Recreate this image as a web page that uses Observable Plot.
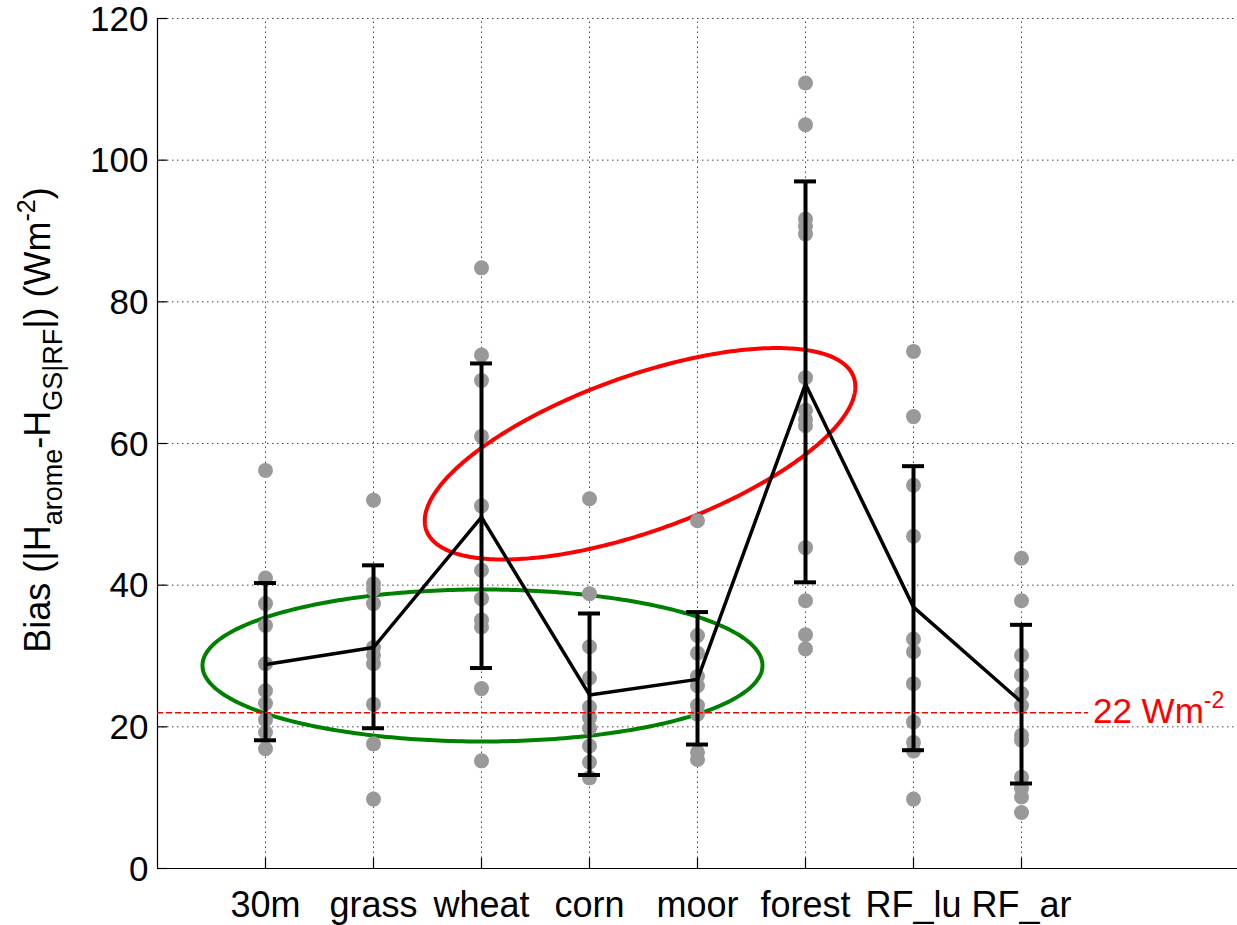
<!DOCTYPE html>
<html>
<head>
<meta charset="utf-8">
<script src="https://cdn.jsdelivr.net/npm/d3@7"></script>
<script src="https://cdn.jsdelivr.net/npm/@observablehq/plot@0.6"></script>
<style>
  html, body { margin: 0; padding: 0; background: #fff; }
  #chart svg { display: block; }
</style>
</head>
<body>
<div id="chart"></div>
<script>
// ---------- data ----------
const categories = ["30m", "grass", "wheat", "corn", "moor", "forest", "RF_lu", "RF_ar"];
const means    = [28.8, 31.2, 49.6, 24.5, 26.7, 68.4, 36.9, 23.5];
const errLow   = [18.1, 19.8, 28.3, 13.2, 17.5, 40.4, 16.7, 12.0];
const errHigh  = [40.3, 42.8, 71.3, 36.0, 36.2, 97.0, 56.8, 34.4];
const pts30m   = [56.2, 41.0, 37.4, 34.3, 28.9, 25.1, 23.3, 21.0, 19.2, 16.9];
const ptsGrass = [52.0, 40.2, 39.4, 37.4, 31.2, 30.1, 28.9, 23.2, 17.6, 9.8];
const ptsWheat = [84.8, 72.5, 68.9, 61.0, 51.2, 42.1, 38.1, 35.1, 34.1, 25.4, 15.2];
const ptsCorn  = [52.2, 38.8, 31.3, 26.9, 22.8, 21.3, 19.8, 17.3, 15.0, 12.8];
const ptsMoor  = [49.1, 32.9, 30.4, 27.1, 25.8, 23.0, 21.8, 16.4, 15.4];
const ptsForest= [110.9, 105.0, 91.7, 90.7, 89.6, 69.3, 64.7, 63.4, 62.5, 45.3, 37.8, 33.0, 31.0];
const ptsRFlu  = [73.0, 63.8, 54.1, 46.9, 32.4, 30.6, 26.1, 20.7, 17.8, 16.6, 9.8];
const ptsRFar  = [43.8, 37.8, 30.1, 27.3, 24.7, 23.0, 18.8, 18.1, 12.9, 11.3, 10.1, 7.9];
const yTicks   = [0, 20, 40, 60, 80, 100, 120];
const refValue = 22;
const refLabel = "22 Wm";

// ---------- layout ----------
const W = 1237, H = 925;
const ml = 157, mr = 0, mt = 18, mb = 57;
const xDomain = [0, 10], yDomain = [0, 120];
const kx = (W - ml - mr) / (xDomain[1] - xDomain[0]);
const ky = (H - mt - mb) / (yDomain[1] - yDomain[0]);
const font = "'Liberation Sans', Arial, Helvetica, sans-serif";

const allPts = [pts30m, ptsGrass, ptsWheat, ptsCorn, ptsMoor, ptsForest, ptsRFlu, ptsRFar];
const idx = categories.map((c, i) => i);
const pos = i => i + 1;
const scatter = allPts.flatMap((arr, i) => arr.map(v => ({x: pos(i), y: v})));

// annotation ellipses (centre in data units, radii in px, angle in degrees)
const ellipses = [
  {cx: 3.009, cy: 28.66, a: 280, b: 76, angle: 0, color: "#008000"},
  {cx: 4.468, cy: 58.55, a: 227, b: 77.5, angle: -19.7, color: "#ff0000"}
];
function ellipsePts(e) {
  const out = [];
  const th = e.angle * Math.PI / 180;
  for (let i = 0; i <= 360; i++) {
    const t = i * Math.PI / 180;
    const dx = e.a * Math.cos(t) * Math.cos(th) - e.b * Math.sin(t) * Math.sin(th);
    const dy = e.a * Math.cos(t) * Math.sin(th) + e.b * Math.sin(t) * Math.cos(th);
    out.push({x: e.cx + dx / kx, y: e.cy - dy / ky});
  }
  return out;
}
const refXEnd = 8.62;
const tickLen = 10, capHalf = 11;

const plot = Plot.plot({
  width: W, height: H,
  marginLeft: ml, marginRight: mr, marginTop: mt, marginBottom: mb,
  x: {domain: xDomain, axis: null},
  y: {domain: yDomain, axis: null},
  style: {fontFamily: font, background: "#fff", overflow: "visible"},
  marks: [
    // dotted grid
    Plot.ruleY(yTicks.filter(d => d > 0), {stroke: "#444", strokeWidth: 1, strokeDasharray: "1.5,3.5"}),
    Plot.ruleX(idx.map(pos), {y1: 0, y2: 120, stroke: "#444", strokeWidth: 1, strokeDasharray: "1.5,3.5"}),
    // axes lines
    Plot.ruleX([0], {y1: 0, y2: 120, stroke: "#000", strokeWidth: 1.2}),
    Plot.ruleY([0], {stroke: "#000", strokeWidth: 1.2}),
    // inward ticks
    Plot.ruleY(yTicks, {x1: 0, x2: tickLen / kx, stroke: "#000", strokeWidth: 1.2}),
    Plot.ruleX(idx.map(pos), {y1: 0, y2: tickLen / ky, stroke: "#000", strokeWidth: 1.2}),
    // tick labels
    Plot.text(yTicks, {x: 0, y: d => d, text: d => String(d), dx: -9, dy: 1, textAnchor: "end", fontSize: 35, fill: "#000"}),
    Plot.text(idx, {x: pos, y: 0, text: i => categories[i], dy: 37, fontSize: 36, fill: "#000"}),
    // ellipses
    ...ellipses.map(e => Plot.line(ellipsePts(e), {x: "x", y: "y", stroke: e.color, strokeWidth: 4, curve: "linear"})),
    // individual points
    Plot.dot(scatter, {x: "x", y: "y", r: 7.5, fill: "#999999", stroke: "none", symbol: "circle"}),
    // error bars
    Plot.ruleX(idx, {x: pos, y1: i => errLow[i], y2: i => errHigh[i], stroke: "#000", strokeWidth: 4}),
    Plot.ruleY(idx, {y: i => errLow[i], x1: i => pos(i) - capHalf / kx, x2: i => pos(i) + capHalf / kx, stroke: "#000", strokeWidth: 4}),
    Plot.ruleY(idx, {y: i => errHigh[i], x1: i => pos(i) - capHalf / kx, x2: i => pos(i) + capHalf / kx, stroke: "#000", strokeWidth: 4}),
    // mean line
    Plot.line(idx, {x: pos, y: i => means[i], stroke: "#000", strokeWidth: 3.5}),
    // reference line
    Plot.ruleY([refValue], {x1: 0, x2: refXEnd, stroke: "#ff0000", strokeWidth: 1.5, strokeDasharray: "6,3"})
  ]
});

document.getElementById("chart").appendChild(plot);

// extra rich text (sub/superscripts)
const svg = d3.select(plot);
const xs = plot.scale("x"), ys = plot.scale("y");

// y-axis label
const yl = svg.append("text")
  .attr("transform", `translate(50, 420) rotate(-90)`)
  .attr("text-anchor", "middle")
  .attr("font-family", font)
  .attr("font-size", 36)
  .attr("fill", "#000");
yl.append("tspan").text("Bias (|H");
yl.append("tspan").attr("font-size", 27).attr("dy", 12).text("arome");
yl.append("tspan").attr("dy", -12).text("-H");
yl.append("tspan").attr("font-size", 27).attr("dy", 12).text("GS|RF");
yl.append("tspan").attr("dy", -12).text("|) (Wm");
yl.append("tspan").attr("font-size", 25).attr("dy", -15).text("-2");
yl.append("tspan").attr("dy", 15).text(")");

// reference label
const rl = svg.append("text")
  .attr("x", xs.apply(refXEnd) + 5)
  .attr("y", ys.apply(refValue) + 11)
  .attr("text-anchor", "start")
  .attr("font-family", font)
  .attr("font-size", 35)
  .attr("fill", "#ff0000");
rl.append("tspan").text(refLabel);
rl.append("tspan").attr("font-size", 23).attr("dy", -15).text("-2");
</script>
</body>
</html>
